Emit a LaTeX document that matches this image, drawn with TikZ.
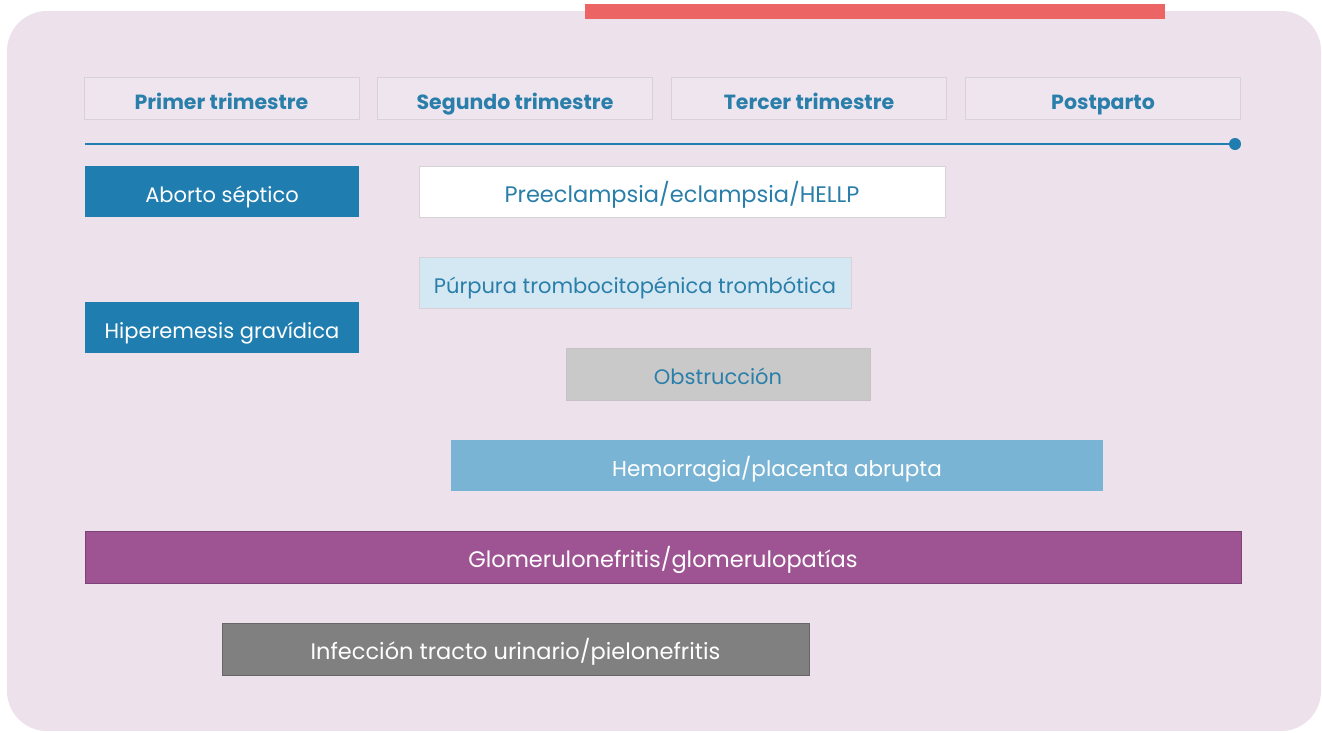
\documentclass[tikz,border=0pt]{standalone}
\usepackage{fontspec}
\setmainfont{Poppins}
\definecolor{bgpink}{HTML}{EDE1EC}
\definecolor{hdrfill}{HTML}{EFE5EF}
\definecolor{hdrline}{HTML}{D6D2D6}
\definecolor{redbar}{HTML}{EC6464}
\definecolor{tblue}{HTML}{2A7FAA}
\definecolor{dblue}{HTML}{1F7DB0}
\definecolor{lblue}{HTML}{D4E8F3}
\definecolor{mblue}{HTML}{7AB4D5}
\definecolor{lgray}{HTML}{C9C9C9}
\definecolor{dgray}{HTML}{808080}
\definecolor{purp}{HTML}{9E5493}
\tikzset{
  hdr/.style={draw=hdrline, line width=1pt, fill=hdrfill, minimum width=275pt, minimum height=42pt, inner sep=0pt, text=tblue, font=\fontsize{20.5}{24}\selectfont\bfseries, text height=22pt, text depth=0pt},
  bar/.style={inner sep=0pt, minimum height=51pt, font=\fontsize{21}{25}\selectfont, text height=21pt, text depth=0pt},
  big/.style={font=\fontsize{22.5}{26}\selectfont},
  wbar/.style={bar, text=white},
  bbar/.style={bar, text=tblue},
}
\begin{document}
\begin{tikzpicture}[x=1pt,y=-1pt]
\useasboundingbox (0,0) rectangle (1322,732);
\fill[bgpink, rounded corners=40pt] (7,11) rectangle (1321,731);
\fill[redbar] (585,4) rectangle (1165,19);
% headers
\node[hdr] (h1) at (221.5,98) {Primer trimestre};
\node[hdr] (h2) at (515,98) {Segundo trimestre};
\node[hdr] (h3) at (809,98) {Tercer trimestre};
\node[hdr] (h4) at (1103,98) {Postparto};
% timeline
\coordinate (tl0) at (85,144);
\node[circle, fill=dblue, inner sep=0pt, minimum size=12pt] (tlend) at (1235,144) {};
\draw[dblue, line width=2.2pt] (tl0) -- (tlend.center);
% bars
\node[wbar, fill=dblue, minimum width=274pt] (aborto) at (222,191.5) {Aborto séptico};
\node[bbar, big, fill=white, draw=hdrline, line width=0.6pt, minimum width=526pt] (pre) at (682,191.5) {Preeclampsia/eclampsia/HELLP};
\node[bbar, fill=lblue, draw=hdrline, line width=0.6pt, minimum width=432pt] (ptt) at (635,282.5) {Púrpura trombocitopénica trombótica};
\node[wbar, fill=dblue, minimum width=274pt] (hiper) at (222,327.5) {Hiperemesis gravídica};
\node[bbar, fill=lgray, draw=hdrline!80!gray, line width=0.6pt, minimum width=304pt, minimum height=52pt] (obs) at (718,374) {Obstrucción};
\node[wbar, font=\fontsize{21.5}{25}\selectfont, fill=mblue, minimum width=652pt] (hem) at (777,465.5) {Hemorragia/placenta abrupta};
\node[wbar, big, fill=purp, draw=purp!80!black, line width=0.6pt, minimum width=1156pt, minimum height=52pt] (glom) at (663,557) {Glomerulonefritis/glomerulopatías};
\node[wbar, big, fill=dgray, draw=dgray!80!black, line width=0.6pt, minimum width=587pt, minimum height=52pt] (itu) at (515.5,649) {Infección tracto urinario/pielonefritis};
\end{tikzpicture}
\end{document}
